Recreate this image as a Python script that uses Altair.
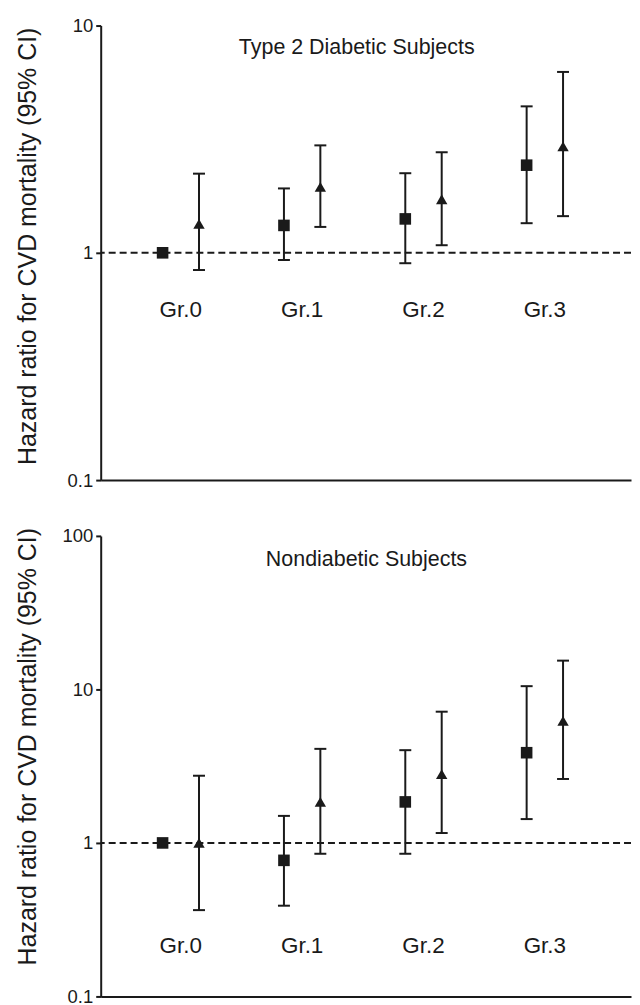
import altair as alt
import pandas as pd

# ---------------- data ----------------
groups = ["Gr.0", "Gr.1", "Gr.2", "Gr.3"]
series = ["square", "triangle"]

# Type 2 diabetic subjects
dm_sq_hr = [1.00, 1.32, 1.41, 2.43]
dm_sq_lo = [None, 0.93, 0.90, 1.35]
dm_sq_hi = [None, 1.92, 2.24, 4.41]
dm_tr_hr = [1.34, 1.95, 1.72, 2.94]
dm_tr_lo = [0.84, 1.30, 1.08, 1.45]
dm_tr_hi = [2.23, 2.97, 2.77, 6.25]

# Nondiabetic subjects
nd_sq_hr = [1.00, 0.77, 1.85, 3.87]
nd_sq_lo = [None, 0.39, 0.85, 1.43]
nd_sq_hi = [None, 1.50, 4.02, 10.5]
nd_tr_hr = [1.00, 1.85, 2.81, 6.24]
nd_tr_lo = [0.365, 0.85, 1.16, 2.61]
nd_tr_hi = [2.74, 4.10, 7.16, 15.4]

top_ticks = [0.1, 1, 10]
bottom_ticks = [0.1, 1, 10, 100]

Y_TITLE = "Hazard ratio for CVD mortality (95% CI)"
FONT = "Liberation Sans"
INK = "#1a1a1a"
DODGE = {"square": -0.15, "triangle": 0.15}


def build_df(sq_hr, sq_lo, sq_hi, tr_hr, tr_lo, tr_hi):
    rows = []
    for i, g in enumerate(groups):
        rows.append(dict(group=g, series="square", x=i + DODGE["square"],
                         hr=sq_hr[i], lo=sq_lo[i], hi=sq_hi[i]))
        rows.append(dict(group=g, series="triangle", x=i + DODGE["triangle"],
                         hr=tr_hr[i], lo=tr_lo[i], hi=tr_hi[i]))
    return pd.DataFrame(rows)


def panel(df, title, domain, ticks, label_y, title_x, title_y, height,
          title_pad, title_ypos):
    xscale = alt.Scale(domain=[-0.66, 3.71], nice=False, zero=False)
    xaxis = alt.Axis(labels=False, ticks=False, title=None, grid=False)
    yscale = alt.Scale(type="log", domain=domain, nice=False)
    yaxis = alt.Axis(values=ticks, format="~g", title=Y_TITLE, grid=False,
                     titlePadding=title_pad, titleY=title_ypos)
    X = alt.X("x:Q", scale=xscale, axis=xaxis)

    ref = alt.Chart(pd.DataFrame({"ref": [1.0]})).mark_rule(
        strokeDash=[7, 4], strokeWidth=2, color=INK
    ).encode(y=alt.Y("ref:Q", scale=yscale, axis=yaxis))

    base = alt.Chart(df)
    ci = base.transform_filter("isValid(datum.lo)")
    bars = ci.mark_rule(strokeWidth=2, color=INK).encode(
        x=X, y=alt.Y("lo:Q", scale=yscale, axis=yaxis), y2="hi:Q")
    cap_lo = ci.mark_tick(orient="horizontal", size=12, thickness=2,
                          color=INK, opacity=1).encode(
        x=X, y=alt.Y("lo:Q", scale=yscale, axis=yaxis))
    cap_hi = ci.mark_tick(orient="horizontal", size=12, thickness=2,
                          color=INK, opacity=1).encode(
        x=X, y=alt.Y("hi:Q", scale=yscale, axis=yaxis))
    pts = base.mark_point(filled=True, opacity=1, color=INK,
                          strokeWidth=0).encode(
        x=X,
        y=alt.Y("hr:Q", scale=yscale, axis=yaxis),
        shape=alt.Shape("series:N", legend=None,
                        scale=alt.Scale(domain=series,
                                        range=["square", "triangle-up"])),
        size=alt.Size("series:N", legend=None,
                      scale=alt.Scale(domain=series, range=[135, 130])),
    )

    labels = alt.Chart(pd.DataFrame({"group": groups,
                                     "gx": list(range(len(groups)))})
                       ).mark_text(font=FONT, fontSize=22.5, color=INK,
                                   baseline="middle").encode(
        x=alt.X("gx:Q", scale=xscale, axis=xaxis),
        y=alt.datum(label_y, scale=yscale),
        text="group:N")

    ttl = alt.Chart(pd.DataFrame({"t": [title]})).mark_text(
        font=FONT, fontSize=21.5, color=INK, baseline="middle").encode(
        x=alt.datum(title_x), y=alt.datum(title_y), text="t:N")

    return alt.layer(ref, bars, cap_lo, cap_hi, pts, labels, ttl).properties(
        width=532, height=height)


top_df = build_df(dm_sq_hr, dm_sq_lo, dm_sq_hi, dm_tr_hr, dm_tr_lo, dm_tr_hi)
bot_df = build_df(nd_sq_hr, nd_sq_lo, nd_sq_hi, nd_tr_hr, nd_tr_lo, nd_tr_hi)

top = panel(top_df, "Type 2 Diabetic Subjects", [0.1, 10], top_ticks,
            0.558, 1.45, 8.0, 456, 26.3, 221)
bottom = panel(bot_df, "Nondiabetic Subjects", [0.1, 100], bottom_ticks,
               0.212, 1.53, 70.0, 462, 21.1, 211)

chart = alt.vconcat(top, bottom, spacing=37).properties(
    padding={"left": 7, "top": 7, "right": 0, "bottom": 0},
    background="white",
).configure_view(stroke=None).configure_axis(
    domainWidth=2, domainColor=INK, tickSize=5, tickWidth=2, tickColor=INK,
    labelFontSize=18.5, labelColor=INK, labelFont=FONT, labelPadding=3,
    titleFont=FONT, titleFontSize=25, titleFontWeight="normal",
    titleColor=INK, grid=False,
)

chart.save("out.html", embed_options={"renderer": "svg", "actions": False})
